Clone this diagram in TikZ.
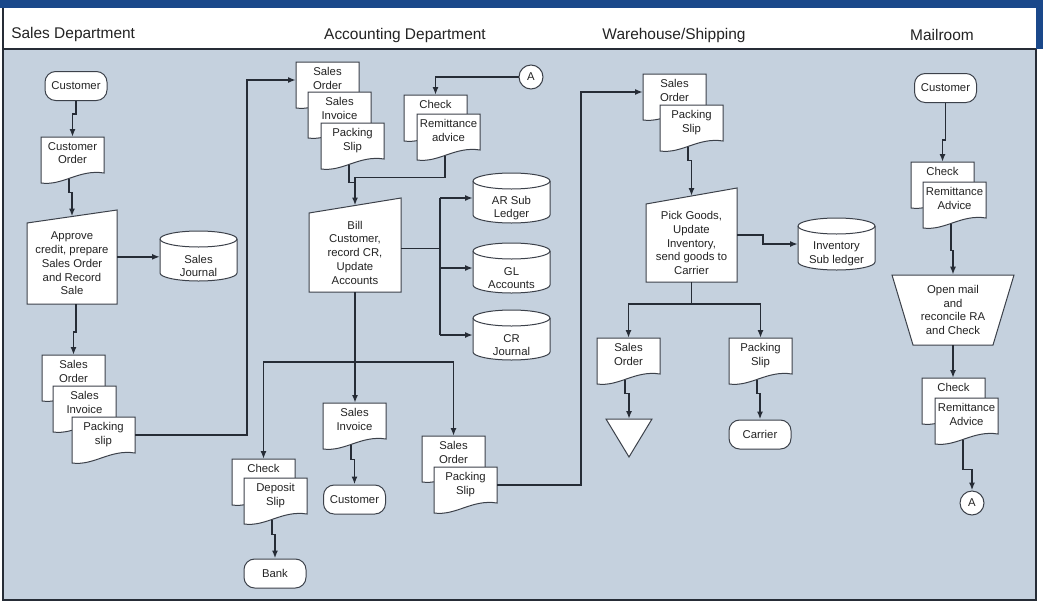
\documentclass[tikz,border=0pt]{standalone}
\usepackage{fontspec}
\setmainfont{Liberation Sans}
\usetikzlibrary{arrows.meta,calc}
\definecolor{panel}{RGB}{197,209,222}
\definecolor{band}{RGB}{26,72,138}
\definecolor{ink}{RGB}{38,44,54}
\definecolor{txtc}{RGB}{35,35,35}
\tikzset{
 shapeline/.style={draw=ink!90!white, line width=0.75pt},
 txt/.style={font=\fontsize{8.5}{10.3}\selectfont, text=txtc, align=center, inner sep=0pt},
 flowline/.style={draw=ink, line width=1.3pt},
 flow/.style={flowline, -{Latex[length=6pt,width=4.5pt]}},
 term/.style={shapeline, fill=white, rounded corners=8pt, minimum width=46.5pt, minimum height=21.75pt, txt},
 conn/.style={circle, shapeline, fill=white, minimum size=18pt, txt},
 hdr/.style={font=\fontsize{11.6}{13}\selectfont, text=txtc, inner sep=0pt},
 anchorbox/.style={inner sep=0pt, outer sep=0pt},
}
% document symbol: name, left, top, text
\newcommand\docu[4]{%
  \draw[shapeline, fill=white] (#2,#3) -- ({#2+63},#3) -- ({#2+63},{#3+36})
     .. controls ({#2+38},{#3+32}) and ({#2+22},{#3+49}) .. (#2,{#3+46}) -- cycle;
  \node[anchorbox, minimum width=47.25pt, minimum height=27pt] (#1) at ({#2+31.5},{#3+18}) {};
  \node[txt, anchor=north] (#1-t) at ({#2+31.5},{#3+5}) {#4};
  \coordinate (#1-b) at ({#2+28},{#3+41.6});
}
% manual input symbol: name, left, width, top-right y, slope, bottom y, text
\newcommand\proc[7]{%
  \draw[shapeline, fill=white] (#2,{#4+#5}) -- ({#2+#3},#4) -- ({#2+#3},#6) -- (#2,#6) -- cycle;
  \node[txt, minimum width={#3*0.75pt}, minimum height={(#6-#4-#5)*0.75pt}] (#1) at ({#2+#3/2},{(#4+#5+#6)/2}) {#7};
  \coordinate (#1-top) at ({#2+#3/2},{#4+#5/2});
}
% disk / cylinder: name, cx, top, height, text
\newcommand\cyl[5]{%
  \draw[shapeline, fill=white] ({#2-38.5},{#3+8}) -- ({#2-38.5},{#3+#4-8})
    .. controls ({#2-38.5},{#3+#4-3.6}) and ({#2-21.25},{#3+#4}) .. (#2,{#3+#4})
    .. controls ({#2+21.25},{#3+#4}) and ({#2+38.5},{#3+#4-3.6}) .. ({#2+38.5},{#3+#4-8})
    -- ({#2+38.5},{#3+8})
    .. controls ({#2+38.5},{#3+3.6}) and ({#2+21.25},#3) .. (#2,#3)
    .. controls ({#2-21.25},#3) and ({#2-38.5},{#3+3.6}) .. ({#2-38.5},{#3+8}) -- cycle;
  \draw[shapeline] ({#2-38.5},{#3+8}) .. controls ({#2-38.5},{#3+12.4}) and ({#2-21.25},{#3+16}) .. (#2,{#3+16})
    .. controls ({#2+21.25},{#3+16}) and ({#2+38.5},{#3+12.4}) .. ({#2+38.5},{#3+8});
  \node[anchorbox, minimum width=57.75pt, minimum height={#4*0.75pt}] (#1) at (#2,{#3+#4/2}) {};
  \node[txt] (#1-t) at (#2,{#3+#4/2+10}) {#5};
}
\newcommand\jog[3]{\draw[flow] (#1) -- ++(0,#3) -| (#2);}
\begin{document}
\begin{tikzpicture}[x=0.75pt,y=-0.75pt]
\useasboundingbox (0,0) rectangle (1043,611);
\fill[white] (0,0) rectangle (1043,611);
% frame
\fill[band] (0,0) rectangle (1043,8);
\fill[band] (1036,0) rectangle (1043,49);
\fill[panel] (3,49) rectangle (1036,600);
\draw[ink, line width=0.8pt] (3,8) -- (3,600) -- (1036,600) -- (1036,49);
\draw[ink, line width=1.2pt] (3,49) -- (1036,49);
% lane headings
\node[hdr, anchor=west] (h1) at (11,34) {Sales Department};
\node[hdr] (h2) at (405,35) {Accounting Department};
\node[hdr] (h3) at (674,35) {Warehouse/Shipping};
\node[hdr] (h4) at (942,35) {Mailroom};

% ---------------- Sales Department
\node[term] (cust1) at (76,86) {Customer};
\docu{custord}{41}{137}{Customer\\Order}
\proc{appr}{27}{90}{210}{13}{304}{Approve\\credit, prepare\\Sales Order\\and Record\\Sale}
\cyl{sj}{198.5}{231}{50}{Sales\\Journal}
\docu{so1}{42}{355}{Sales\\Order}
\docu{si1}{53}{386}{Sales\\Invoice}
\docu{ps1}{72}{417}{Packing\\slip}

% ---------------- Accounting Department
\docu{so2}{296}{62}{Sales\\Order}
\docu{si2}{308}{92}{Sales\\Invoice}
\docu{ps2}{321}{123}{Packing\\Slip}
\docu{chk1}{404}{95}{Check}
\docu{ra1}{417}{114}{Remittance\\advice}
\node[conn] (A1) at (531,77) {A};
\proc{bill}{309}{92}{198}{15}{292}{Bill\\Customer,\\record CR,\\Update\\Accounts}
\cyl{ar}{511.5}{173}{50}{AR Sub\\Ledger}
\cyl{gl}{511.5}{243}{50}{GL\\Accounts}
\cyl{crj}{511.5}{310}{50}{CR\\Journal}
\docu{sinv}{323}{403}{Sales\\Invoice}
\node[term] (cust2) at (354.5,499.5) {Customer};
\docu{chk2}{232}{459}{Check}
\docu{dep}{244}{478}{Deposit\\Slip}
\node[term] (bank) at (275,573.5) {Bank};
\docu{so3}{422}{436}{Sales\\Order}
\docu{ps3}{434}{467}{Packing\\Slip}

% ---------------- Warehouse/Shipping
\docu{so4}{643}{74}{Sales\\Order}
\docu{ps4}{660}{105}{Packing\\Slip}
\proc{pick}{646}{91}{188}{16}{282}{Pick Goods,\\Update\\Inventory,\\send goods to\\Carrier}
\cyl{inv}{836.5}{218}{52}{Inventory\\Sub ledger}
\docu{so5}{597}{338}{Sales\\Order}
\docu{ps5}{729}{338}{Packing\\Slip}
\node[anchorbox, minimum width=34.5pt, minimum height=28.5pt] (tri) at (629,438) {};
\draw[shapeline, fill=white] (tri.north west) -- (tri.north east) -- (tri.south) -- cycle;
\node[term] (carrier) at (760,434.5) {Carrier};

% ---------------- Mailroom
\node[term] (cust3) at (945.5,88) {Customer};
\docu{chk3}{911}{162}{Check}
\docu{ra2}{923}{182}{Remittance\\Advice}
\draw[shapeline, fill=white] (892,275) -- (1014,275) -- (993,345) -- (913,345) -- cycle;
\node[txt, minimum width=60pt, minimum height=52.5pt] (om) at (953,310) {Open mail\\and\\reconcile RA\\and Check};
\docu{chk4}{922}{378}{Check}
\docu{ra3}{935}{398}{Remittance\\Advice}
\node[conn] (A2) at (972,503) {A};

% ---------------- flow lines
% sales
\jog{cust1.south}{custord.north}{13}
\jog{custord-b}{appr-top}{14}
\draw[flow] ([yshift=5pt]appr.east) -- ([yshift=5pt]appr.east -| sj.west);
\jog{[xshift=3pt]appr.south}{so1.north}{28}
\draw[flow] (ps1.east) -| ($(so2.west)+(-49,0)$) -- (so2.west);
% accounting
\draw[flow] (A1.west) -| (chk1.north);
\jog{ps2-b}{bill-top}{18}
\draw[flowline] (ra1-b) |- ($(bill-top)+(0,-28)$) -- ($(bill-top)+(0,-22)$);
\coordinate (busx) at (440,250);
\draw[flowline] ([yshift=3pt]bill.east) -- ([yshift=3pt]bill.east -| busx);
\draw[flowline] (busx |- ar.west) -- (busx |- crj.west);
\draw[flow] (busx |- ar.west) -- (ar.west);
\draw[flow] (busx |- gl.west) -- (gl.west);
\draw[flow] (busx |- crj.west) -- (crj.west);
\coordinate (hb) at (0,362);
\draw[flow] (bill.south) -- (bill.south |- sinv.north);
\draw[flow] (bill.south |- hb) -| (chk2.north);
\draw[flow] (bill.south |- hb) -| (so3.north);
\jog{sinv-b}{cust2.north}{15}
\jog{dep-b}{bank.north}{15}
\draw[flow] (ps3.east) -| ($(so4.west)+(-62,0)$) -- (so4.west);
% warehouse
\jog{ps4-b}{pick-top}{14}
\draw[flow] ([yshift=6pt]pick.east) -- ++(26,0) |- (inv.west);
\draw[flowline] (pick.south) -- ++(0,22) coordinate (pj);
\draw[flow] (pj) -| (so5.north);
\draw[flow] (pj) -| (ps5.north);
\jog{so5-b}{tri.north}{14}
\jog{ps5-b}{carrier.north}{14}
% mailroom
\jog{cust3.south}{chk3.north}{37}
\jog{ra2-b}{om.north}{27}
\draw[flow] (om.south) -- (om.south |- chk4.north);
\jog{ra3-b}{A2.north}{30}
\end{tikzpicture}
\end{document}
